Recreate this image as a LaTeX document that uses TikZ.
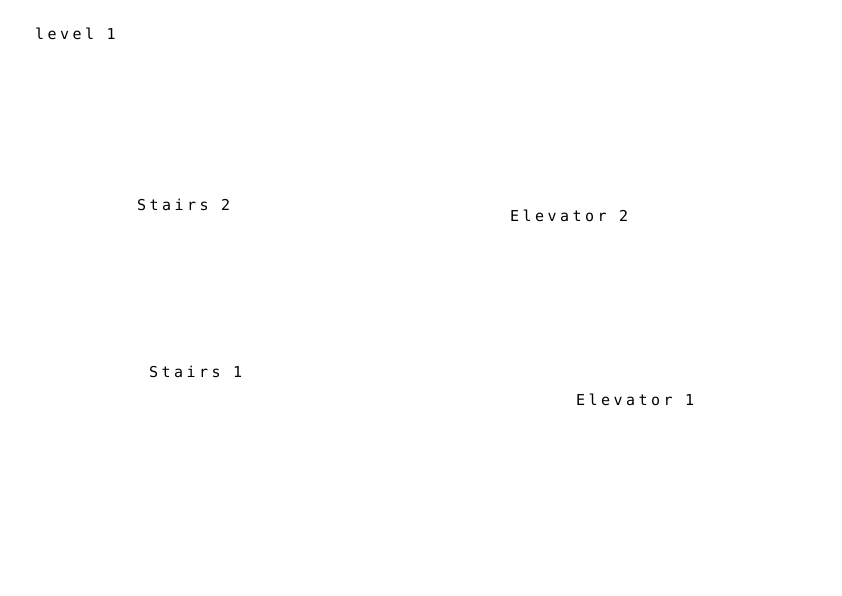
\documentclass[tikz,border=0pt]{standalone}
\usepackage{fontspec}
\usepackage{tikz}
\newfontfamily\plantext[LetterSpace=23]{DejaVu Sans Mono}
\def\labsize{\fontsize{15}{17}\selectfont}

\begin{document}
\begin{tikzpicture}[x=1pt,y=-1pt,
  place/.style={inner sep=0pt,anchor=base west,font=\plantext\labsize}]
\useasboundingbox (0,0) rectangle (842,596);
\draw[] (35,39.5) node[place] (level) {level 1};
\draw[] (137,210.5) node[place] (stairstwo) {Stairs 2};
\draw[] (510,221) node[place] (elevtwo) {Elevator 2};
\draw[] (149,377.5) node[place] (stairsone) {Stairs 1};
\draw[] (576,405.5) node[place] (elevone) {Elevator 1};
\end{tikzpicture}
\end{document}
